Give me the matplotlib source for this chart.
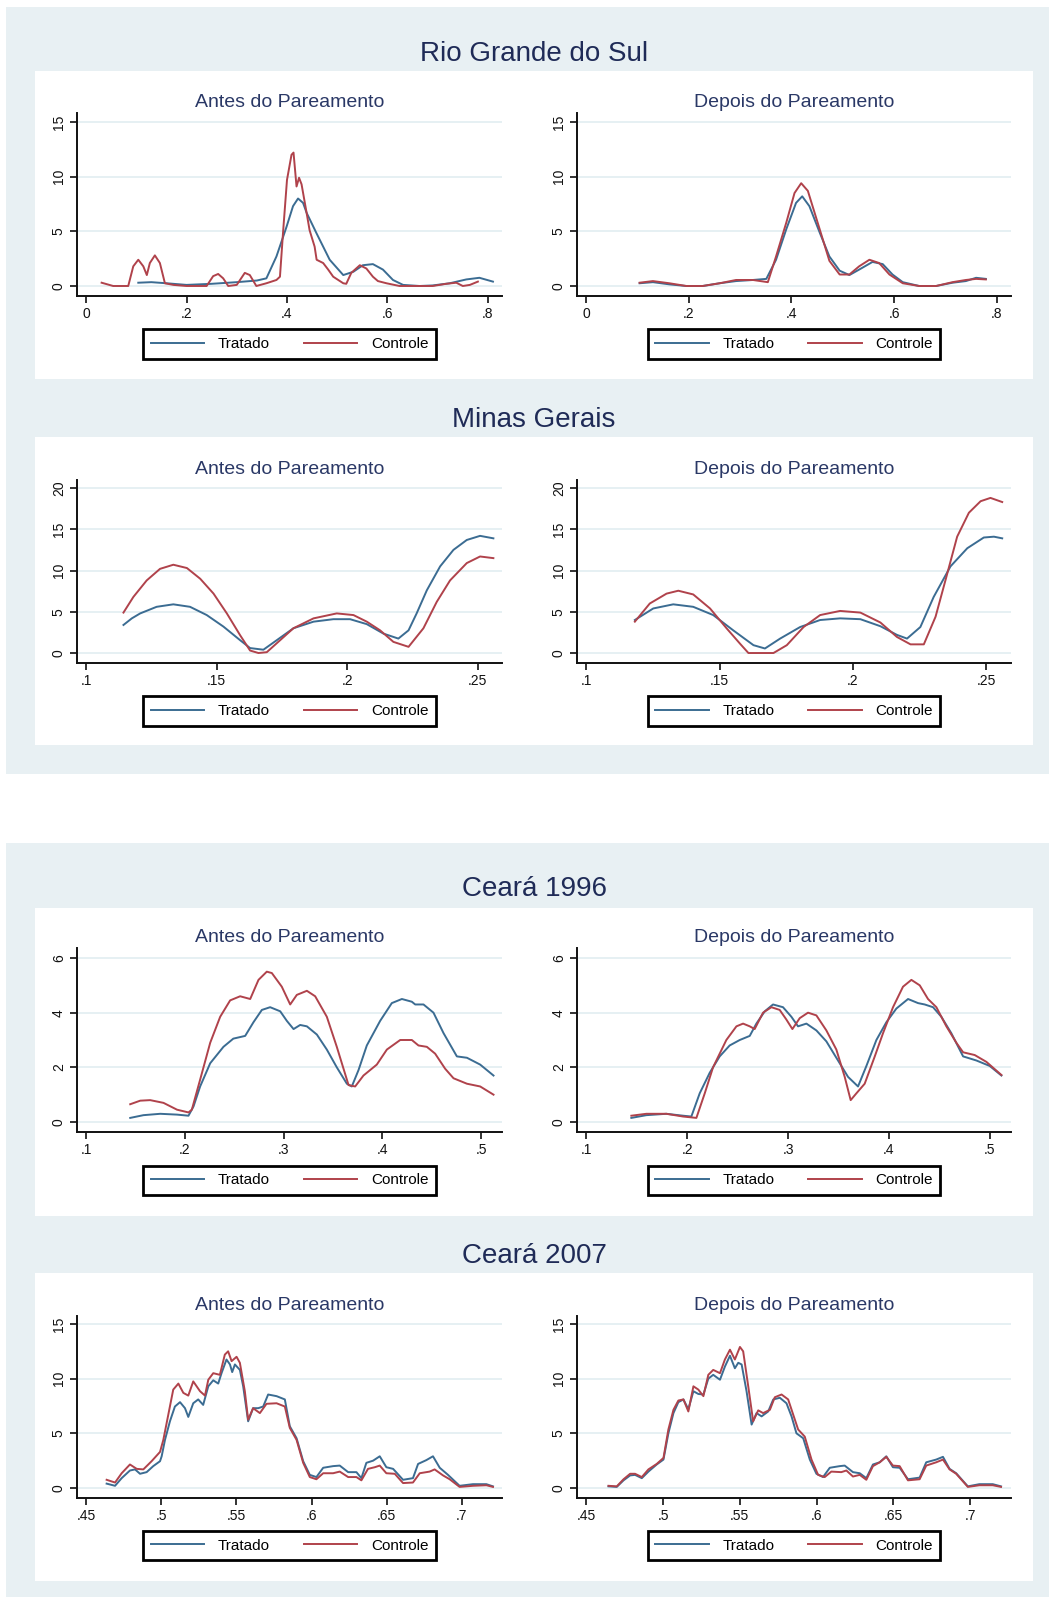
import matplotlib
matplotlib.use("Agg")
import matplotlib.pyplot as plt
from matplotlib.patches import Rectangle
from matplotlib.lines import Line2D

# ---- dados (densidade do escore de propensao) ----
# Rio Grande do Sul - antes
rs_antes_trat_x = [0.104, 0.13, 0.16, 0.2, 0.25, 0.3, 0.34, 0.359, 0.379, 0.399, 0.412, 0.422, 0.432, 0.439, 0.459,
                   0.485, 0.512, 0.532, 0.551, 0.571, 0.591, 0.611, 0.631, 0.664, 0.69, 0.724, 0.757, 0.783, 0.81]
rs_antes_trat_y = [0.3, 0.35, 0.25, 0.1, 0.2, 0.35, 0.5, 0.7, 2.7, 5.4, 7.3, 8.0, 7.6, 6.7, 4.8,
                   2.4, 1.0, 1.3, 1.9, 2.0, 1.5, 0.55, 0.1, 0.0, 0.05, 0.25, 0.6, 0.75, 0.4]
rs_antes_ctrl_x = [0.031, 0.054, 0.084, 0.094, 0.104, 0.114, 0.121, 0.127, 0.137, 0.147, 0.157, 0.174, 0.2,
                   0.24, 0.253, 0.263, 0.273, 0.283, 0.3, 0.316, 0.326, 0.339, 0.359, 0.379, 0.386, 0.392,
                   0.4, 0.409, 0.413, 0.419, 0.424, 0.429, 0.439, 0.445, 0.455, 0.459, 0.472, 0.482, 0.492,
                   0.512, 0.518, 0.528, 0.545, 0.558, 0.571, 0.581, 0.598, 0.624, 0.69, 0.717, 0.737, 0.75,
                   0.764, 0.78]
rs_antes_ctrl_y = [0.3, 0.0, 0.0, 1.8, 2.4, 1.8, 1.0, 2.1, 2.8, 2.1, 0.25, 0.1, 0.0,
                   0.0, 0.9, 1.1, 0.7, 0.0, 0.1, 1.2, 1.0, 0.0, 0.25, 0.55, 0.85, 4.8,
                   9.7, 12.0, 12.2, 9.1, 9.9, 9.3, 6.7, 5.1, 3.6, 2.4, 2.1, 1.5, 0.85,
                   0.25, 0.2, 1.2, 1.9, 1.6, 0.85, 0.45, 0.25, 0.0, 0.0, 0.2, 0.3, 0.0,
                   0.1, 0.4]
# Rio Grande do Sul - depois
rs_dep_trat_x = [0.104, 0.13, 0.162, 0.195, 0.227, 0.26, 0.292, 0.325, 0.351, 0.37, 0.39, 0.409, 0.421, 0.435,
                 0.455, 0.474, 0.494, 0.513, 0.532, 0.558, 0.578, 0.597, 0.617, 0.649, 0.682, 0.714, 0.74,
                 0.76, 0.779]
rs_dep_trat_y = [0.25, 0.35, 0.15, 0.0, 0.0, 0.25, 0.45, 0.55, 0.65, 2.4, 5.2, 7.6, 8.2, 7.3,
                 4.9, 2.7, 1.4, 1.0, 1.5, 2.2, 2.0, 1.05, 0.35, 0.0, 0.0, 0.3, 0.45,
                 0.75, 0.65]
rs_dep_ctrl_x = [0.104, 0.13, 0.162, 0.195, 0.227, 0.26, 0.292, 0.325, 0.354, 0.37, 0.39, 0.406, 0.419, 0.432,
                 0.455, 0.474, 0.494, 0.513, 0.532, 0.552, 0.571, 0.591, 0.617, 0.649, 0.682, 0.714, 0.74,
                 0.76, 0.779]
rs_dep_ctrl_y = [0.3, 0.45, 0.25, 0.0, 0.0, 0.25, 0.55, 0.55, 0.35, 2.7, 5.8, 8.5, 9.4, 8.7,
                 5.2, 2.3, 1.05, 1.05, 1.8, 2.4, 2.1, 1.05, 0.25, 0.0, 0.0, 0.35, 0.55,
                 0.65, 0.6]

# Minas Gerais - antes
mg_antes_trat_x = [0.1143, 0.1175, 0.1207, 0.127, 0.1334, 0.1398, 0.1462, 0.1526, 0.159, 0.1628, 0.1679, 0.173,
                   0.1794, 0.1871, 0.1947, 0.2011, 0.2075, 0.2139, 0.2196, 0.2235, 0.2266, 0.2305, 0.2356,
                   0.2407, 0.2458, 0.2509, 0.256]
mg_antes_trat_y = [3.4, 4.2, 4.8, 5.6, 5.9, 5.6, 4.6, 3.2, 1.55, 0.6, 0.4, 1.55,
                   3.0, 3.8, 4.1, 4.1, 3.5, 2.35, 1.75, 2.75, 4.8, 7.6, 10.5,
                   12.5, 13.7, 14.2, 13.9]
mg_antes_ctrl_x = [0.1143, 0.1181, 0.1232, 0.1283, 0.1334, 0.1386, 0.1437, 0.1488, 0.1539, 0.159, 0.1628,
                   0.166, 0.1692, 0.1743, 0.1794, 0.1871, 0.196, 0.2024, 0.2075, 0.2126, 0.2177, 0.2235,
                   0.2292, 0.2343, 0.2394, 0.2458, 0.2509, 0.256]
mg_antes_ctrl_y = [4.9, 6.8, 8.8, 10.2, 10.7, 10.3, 9.0, 7.2, 4.8, 2.15, 0.3,
                   0.0, 0.1, 1.55, 3.0, 4.2, 4.8, 4.6, 3.8, 2.75, 1.35, 0.75,
                   3.0, 6.2, 8.8, 10.9, 11.7, 11.5]
# Minas Gerais - depois
mg_dep_trat_x = [0.1182, 0.1251, 0.1326, 0.1401, 0.1476, 0.1551, 0.1627, 0.167, 0.1727, 0.1802, 0.1877,
                 0.1952, 0.2028, 0.2103, 0.2165, 0.2203, 0.2253, 0.2303, 0.2366, 0.2429, 0.2491, 0.2529,
                 0.256]
mg_dep_trat_y = [4.0, 5.4, 5.9, 5.6, 4.6, 2.75, 0.95, 0.55, 1.75, 3.15, 4.0,
                 4.2, 4.1, 3.25, 2.2, 1.75, 3.15, 6.8, 10.5, 12.7, 14.0, 14.1,
                 13.9]
mg_dep_ctrl_x = [0.1182, 0.1238, 0.1301, 0.1345, 0.1401, 0.1464, 0.1526, 0.1576, 0.1608, 0.1702, 0.1752,
                 0.1815, 0.1877, 0.1952, 0.2028, 0.2103, 0.2165, 0.2216, 0.2266, 0.231, 0.2347, 0.2391,
                 0.2435, 0.2479, 0.2516, 0.256]
mg_dep_ctrl_y = [3.8, 6.0, 7.2, 7.55, 7.1, 5.4, 3.0, 1.15, 0.0, 0.0, 0.95,
                 3.15, 4.6, 5.1, 4.9, 3.7, 1.95, 1.05, 1.05, 4.4, 8.8, 14.1,
                 17.0, 18.4, 18.8, 18.3]

# Ceara 1996 - antes
ce96_antes_trat_x = [0.1446, 0.158, 0.175, 0.192, 0.2036, 0.2087, 0.2154, 0.2256, 0.239, 0.249, 0.261, 0.2694,
                     0.2779, 0.2863, 0.2965, 0.3032, 0.31, 0.3167, 0.3235, 0.3336, 0.3437, 0.3538, 0.364,
                     0.369, 0.3758, 0.3842, 0.3977, 0.4095, 0.4197, 0.4298, 0.4332, 0.4416, 0.4517, 0.4619,
                     0.4754, 0.4856, 0.499, 0.5125]
ce96_antes_trat_y = [0.15, 0.25, 0.3, 0.27, 0.23, 0.57, 1.3, 2.15, 2.75, 3.05, 3.15, 3.65,
                     4.1, 4.2, 4.05, 3.7, 3.4, 3.55, 3.5, 3.2, 2.65, 2.0, 1.4,
                     1.3, 1.9, 2.8, 3.7, 4.35, 4.5, 4.4, 4.3, 4.3, 4.0, 3.25,
                     2.4, 2.35, 2.1, 1.7]
ce96_antes_ctrl_x = [0.1446, 0.1547, 0.1648, 0.1783, 0.192, 0.2036, 0.207, 0.2154, 0.2256, 0.2357, 0.2458,
                     0.2559, 0.2661, 0.2745, 0.2829, 0.288, 0.2981, 0.3066, 0.3133, 0.3235, 0.3319, 0.3437,
                     0.3538, 0.3657, 0.3724, 0.3808, 0.3943, 0.4045, 0.418, 0.4298, 0.4365, 0.445, 0.4534,
                     0.4635, 0.472, 0.4856, 0.499, 0.5125]
ce96_antes_ctrl_y = [0.65, 0.78, 0.8, 0.7, 0.45, 0.35, 0.45, 1.55, 2.9, 3.85, 4.45,
                     4.6, 4.5, 5.2, 5.5, 5.45, 4.95, 4.3, 4.65, 4.8, 4.6, 3.85,
                     2.75, 1.35, 1.3, 1.7, 2.1, 2.65, 3.0, 3.0, 2.8, 2.75, 2.5,
                     1.95, 1.6, 1.4, 1.3, 1.0]
# Ceara 1996 - depois
ce96_dep_trat_x = [0.1446, 0.1595, 0.1793, 0.1959, 0.2041, 0.2124, 0.2223, 0.2322, 0.2421, 0.2521, 0.262,
                   0.2686, 0.2769, 0.2851, 0.295, 0.3033, 0.3099, 0.3182, 0.3281, 0.338, 0.3479, 0.3595,
                   0.3694, 0.3777, 0.3876, 0.3975, 0.4074, 0.419, 0.4289, 0.4355, 0.4438, 0.452, 0.4619,
                   0.4736, 0.4868, 0.5, 0.5116]
ce96_dep_trat_y = [0.15, 0.25, 0.3, 0.23, 0.2, 1.05, 1.8, 2.4, 2.8, 3.0, 3.15,
                   3.6, 4.05, 4.3, 4.2, 3.85, 3.5, 3.6, 3.35, 2.95, 2.35, 1.65,
                   1.3, 2.05, 3.0, 3.65, 4.15, 4.5, 4.35, 4.3, 4.2, 3.85, 3.25,
                   2.4, 2.25, 2.05, 1.7]
ce96_dep_ctrl_x = [0.1446, 0.1595, 0.1793, 0.1959, 0.2091, 0.2174, 0.2256, 0.2388, 0.2488, 0.2554, 0.262,
                   0.2669, 0.2752, 0.2835, 0.2917, 0.2983, 0.3043, 0.3116, 0.3198, 0.3281, 0.338, 0.3479,
                   0.3562, 0.3621, 0.3678, 0.376, 0.386, 0.3942, 0.4041, 0.414, 0.4223, 0.4306, 0.4388,
                   0.4471, 0.457, 0.4669, 0.4736, 0.4851, 0.4967, 0.5116]
ce96_dep_ctrl_y = [0.23, 0.3, 0.3, 0.2, 0.15, 1.05, 2.0, 3.0, 3.5, 3.6, 3.5,
                   3.4, 4.0, 4.2, 4.1, 3.75, 3.4, 3.8, 4.0, 3.9, 3.35, 2.65,
                   1.65, 0.8, 1.05, 1.4, 2.4, 3.25, 4.2, 4.95, 5.2, 5.0, 4.5,
                   4.2, 3.5, 2.9, 2.55, 2.45, 2.2, 1.72]

# Ceara 2007 - antes
ce07_antes_trat_x = [0.4637, 0.4693, 0.4737, 0.4792, 0.4826, 0.4859, 0.4903, 0.4947, 0.4992, 0.5003, 0.5025,
                     0.5058, 0.5091, 0.5125, 0.5158, 0.518, 0.5213, 0.5246, 0.5279, 0.5313, 0.5346, 0.5379,
                     0.5401, 0.5434, 0.5457, 0.5472, 0.549, 0.5523, 0.5545, 0.5578, 0.5611, 0.5645, 0.5678,
                     0.5711, 0.5767, 0.5822, 0.5855, 0.59, 0.5944, 0.5988, 0.6032, 0.6077, 0.6143, 0.6187,
                     0.6243, 0.6298, 0.6331, 0.6364, 0.6409, 0.6453, 0.6497, 0.6542, 0.6608, 0.6674, 0.6708,
                     0.6763, 0.6807, 0.6852, 0.6907, 0.6984, 0.7073, 0.7162, 0.7206]
ce07_antes_trat_y = [0.4, 0.2, 0.9, 1.6, 1.7, 1.3, 1.45, 2.0, 2.45, 2.9, 4.4,
                     6.1, 7.45, 7.85, 7.3, 6.5, 7.75, 8.1, 7.6, 9.3, 9.85, 9.55,
                     10.5, 11.75, 11.3, 10.6, 11.3, 10.8, 9.3, 6.1, 7.3, 7.3, 7.45,
                     8.55, 8.4, 8.1, 5.65, 4.55, 2.45, 1.2, 1.0, 1.85, 2.0, 2.05,
                     1.45, 1.45, 0.9, 2.3, 2.5, 2.9, 1.9, 1.75, 0.75, 0.9, 2.2,
                     2.55, 2.9, 1.85, 1.2, 0.2, 0.35, 0.35, 0.15]
ce07_antes_ctrl_x = [0.4637, 0.4693, 0.4737, 0.4792, 0.4837, 0.4881, 0.4936, 0.4992, 0.5014, 0.5047, 0.508,
                     0.5114, 0.5147, 0.518, 0.5213, 0.5258, 0.5291, 0.5313, 0.5346, 0.539, 0.5423, 0.5445,
                     0.5468, 0.5501, 0.5523, 0.5556, 0.5578, 0.5611, 0.5656, 0.57, 0.5767, 0.5822, 0.5855,
                     0.59, 0.5944, 0.5988, 0.6032, 0.6077, 0.6143, 0.6187, 0.6243, 0.6298, 0.6331, 0.6375,
                     0.642, 0.6453, 0.6497, 0.6553, 0.6608, 0.6674, 0.6719, 0.6785, 0.6818, 0.6874, 0.6918,
                     0.6984, 0.7073, 0.7162, 0.7206]
ce07_antes_ctrl_y = [0.75, 0.5, 1.35, 2.15, 1.75, 1.7, 2.45, 3.3, 4.4, 6.7, 9.0,
                     9.55, 8.7, 8.45, 9.75, 8.85, 8.45, 9.9, 10.5, 10.35, 12.2, 12.5,
                     11.6, 12.0, 11.45, 8.85, 6.25, 7.3, 6.85, 7.7, 7.75, 7.45, 5.5,
                     4.4, 2.3, 1.0, 0.8, 1.35, 1.35, 1.5, 1.0, 1.0, 0.7, 1.75,
                     1.9, 2.05, 1.35, 1.3, 0.45, 0.5, 1.35, 1.5, 1.7, 1.15, 0.8,
                     0.1, 0.2, 0.25, 0.1]
# Ceara 2007 - depois
ce07_dep_trat_x = [0.4645, 0.4699, 0.4743, 0.4786, 0.4818, 0.4862, 0.4905, 0.4959, 0.5003, 0.5035, 0.5068,
                   0.51, 0.5133, 0.5165, 0.5198, 0.523, 0.5263, 0.5295, 0.5327, 0.5371, 0.5403, 0.5436,
                   0.5468, 0.549, 0.5512, 0.5544, 0.5577, 0.5609, 0.5642, 0.5685, 0.5718, 0.5761, 0.5804,
                   0.5837, 0.5869, 0.5913, 0.5956, 0.5999, 0.6042, 0.6086, 0.6151, 0.6183, 0.6237, 0.6281,
                   0.6324, 0.6367, 0.6411, 0.6454, 0.6497, 0.6541, 0.6595, 0.6671, 0.6714, 0.6779, 0.6823,
                   0.6866, 0.6909, 0.6985, 0.706, 0.7147, 0.7201]
ce07_dep_trat_y = [0.15, 0.1, 0.7, 1.15, 1.2, 0.9, 1.5, 2.15, 2.6, 5.0, 6.85,
                   7.85, 8.1, 7.2, 8.85, 8.6, 8.55, 10.0, 10.35, 9.9, 11.1, 12.1,
                   10.95, 11.45, 11.3, 8.85, 5.8, 6.85, 6.55, 7.0, 8.1, 8.25, 7.75,
                   6.55, 5.0, 4.55, 2.6, 1.3, 1.0, 1.85, 2.0, 2.05, 1.45, 1.35,
                   0.9, 2.15, 2.35, 2.9, 1.9, 1.85, 0.8, 0.95, 2.35, 2.6, 2.85,
                   1.75, 1.35, 0.15, 0.35, 0.35, 0.15]
ce07_dep_ctrl_x = [0.4645, 0.4699, 0.4743, 0.4786, 0.4818, 0.4862, 0.4905, 0.4959, 0.5003, 0.5035, 0.5068,
                   0.51, 0.5133, 0.5165, 0.5198, 0.523, 0.5263, 0.5295, 0.5327, 0.5371, 0.5403, 0.5436,
                   0.5468, 0.5501, 0.5522, 0.5555, 0.5587, 0.562, 0.5652, 0.5696, 0.5728, 0.5772, 0.5815,
                   0.5848, 0.588, 0.5923, 0.5967, 0.601, 0.6053, 0.6096, 0.6161, 0.6194, 0.6237, 0.6281,
                   0.6324, 0.6367, 0.6411, 0.6454, 0.6497, 0.6541, 0.6595, 0.6671, 0.6714, 0.6779, 0.6823,
                   0.6866, 0.6909, 0.6985, 0.706, 0.7147, 0.7201]
ce07_dep_ctrl_y = [0.2, 0.15, 0.8, 1.3, 1.3, 1.0, 1.7, 2.2, 2.75, 5.35, 7.15,
                   8.0, 8.1, 7.0, 9.3, 9.0, 8.4, 10.35, 10.8, 10.5, 11.75, 12.65,
                   11.75, 12.9, 12.5, 9.3, 6.1, 7.1, 6.85, 7.15, 8.3, 8.55, 8.1,
                   6.7, 5.35, 4.7, 2.6, 1.2, 1.0, 1.5, 1.45, 1.6, 1.05, 1.2,
                   0.75, 2.0, 2.35, 2.85, 2.05, 2.0, 0.7, 0.8, 2.05, 2.35, 2.6,
                   1.7, 1.3, 0.1, 0.25, 0.25, 0.1]

titulos = ["Rio Grande do Sul", "Minas Gerais", "Ceará 1996", "Ceará 2007"]
subtitulos = ["Antes do Pareamento", "Depois do Pareamento"]
legenda = ["Tratado", "Controle"]

xticks_rs = [0, 0.2, 0.4, 0.6, 0.8]
yticks_rs = [0, 5, 10, 15]
xticks_mg = [0.1, 0.15, 0.2, 0.25]
yticks_mg = [0, 5, 10, 15, 20]
xticks_ce96 = [0.1, 0.2, 0.3, 0.4, 0.5]
yticks_ce96 = [0, 2, 4, 6]
xticks_ce07 = [0.45, 0.5, 0.55, 0.6, 0.65, 0.7]
yticks_ce07 = [0, 5, 10, 15]

# ---- estilo ----
W, H = 1049, 1597
BG = "#e8f0f3"
AZUL = "#3b6c92"
VERM = "#b0424b"
NAVY = "#1f2b57"
GRID = "#e4eff2"
FONTE = ["Liberation Sans", "DejaVu Sans"]

plt.rcParams["font.family"] = FONTE

fig = plt.figure(figsize=(W / 100, H / 100), dpi=100)
fig.patch.set_facecolor("white")


def rect_px(l, t, r, b, cor):
    fig.patches.append(Rectangle((l / W, 1 - b / H), (r - l) / W, (b - t) / H,
                                 transform=fig.transFigure, facecolor=cor, edgecolor="none", zorder=-5))


def eixo_px(l, t, r, b):
    return fig.add_axes([l / W, 1 - b / H, (r - l) / W, (b - t) / H])


def fmt(v):
    if v == 0:
        return "0"
    return ("%g" % v).lstrip("0")


# fundos
rect_px(6, 7, W, 774, BG)
rect_px(6, 843, W, H, BG)
painel_top = [71, 437, 908, 1273]
for t in painel_top:
    rect_px(35, t, 1033, t + 308, "white")

linhas = [
    (rs_antes_trat_x, rs_antes_trat_y, rs_antes_ctrl_x, rs_antes_ctrl_y,
     rs_dep_trat_x, rs_dep_trat_y, rs_dep_ctrl_x, rs_dep_ctrl_y),
    (mg_antes_trat_x, mg_antes_trat_y, mg_antes_ctrl_x, mg_antes_ctrl_y,
     mg_dep_trat_x, mg_dep_trat_y, mg_dep_ctrl_x, mg_dep_ctrl_y),
    (ce96_antes_trat_x, ce96_antes_trat_y, ce96_antes_ctrl_x, ce96_antes_ctrl_y,
     ce96_dep_trat_x, ce96_dep_trat_y, ce96_dep_ctrl_x, ce96_dep_ctrl_y),
    (ce07_antes_trat_x, ce07_antes_trat_y, ce07_antes_ctrl_x, ce07_antes_ctrl_y,
     ce07_dep_trat_x, ce07_dep_trat_y, ce07_dep_ctrl_x, ce07_dep_ctrl_y),
]
xticks = [xticks_rs, xticks_mg, xticks_ce96, xticks_ce07]
yticks = [yticks_rs, yticks_mg, yticks_ce96, yticks_ce07]
xlims = [(-0.018, 0.828), (0.0965, 0.2593), (0.0907, 0.5211), (0.444, 0.7266)]
ylims = [(-0.915, 15.82), (-1.21, 20.97), (-0.366, 6.366), (-0.915, 15.73)]
eixo_top = [113, 480, 948, 1316]
eixo_bot = [296, 663, 1132, 1498]
titulo_y = [54, 420, 889, 1256]
colunas = [(77, 502), (577, 1011)]

for i in range(4):
    fig.text(534 / W, 1 - titulo_y[i] / H, titulos[i], ha="center", va="center",
             fontsize=20, color=NAVY)
    for j in range(2):
        l, r = colunas[j]
        ax = eixo_px(l, eixo_top[i], r, eixo_bot[i])
        ax.patch.set_alpha(0)
        ax.plot(linhas[i][4 * j], linhas[i][4 * j + 1], color=AZUL, lw=1.4, zorder=3)
        ax.plot(linhas[i][4 * j + 2], linhas[i][4 * j + 3], color=VERM, lw=1.4, zorder=3)
        ax.set_xlim(*xlims[i])
        ax.set_ylim(*ylims[i])
        ax.set_xticks(xticks[i])
        ax.set_xticklabels([fmt(v) for v in xticks[i]], fontsize=10)
        ax.set_yticks(yticks[i])
        ax.set_yticklabels([fmt(v) for v in yticks[i]], fontsize=10, rotation=90, va="center")
        ax.yaxis.grid(True, color=GRID, lw=1.3, zorder=1)
        ax.xaxis.grid(False)
        ax.set_axisbelow(True)
        for s in ["top", "right"]:
            ax.spines[s].set_visible(False)
        for s in ["left", "bottom"]:
            ax.spines[s].set_linewidth(1.4)
            ax.spines[s].set_color("#111111")
        ax.tick_params(length=5, width=1.2, pad=3, colors="#111111")
        ax.set_title(subtitulos[j], fontsize=14, color="#2a3866", pad=4)
        hs = [Line2D([], [], color=AZUL, lw=1.4), Line2D([], [], color=VERM, lw=1.4)]
        leg = ax.legend(hs, legenda, loc="center", bbox_to_anchor=(0.5, -0.262), ncol=2,
                        frameon=True, fancybox=False, edgecolor="black", framealpha=1,
                        handlelength=3.5, handletextpad=0.9, columnspacing=2.2,
                        borderpad=0.5, borderaxespad=0, prop={"size": 11})
        leg.get_frame().set_linewidth(2.0)

fig.savefig("out.png", dpi=100, facecolor="white")
